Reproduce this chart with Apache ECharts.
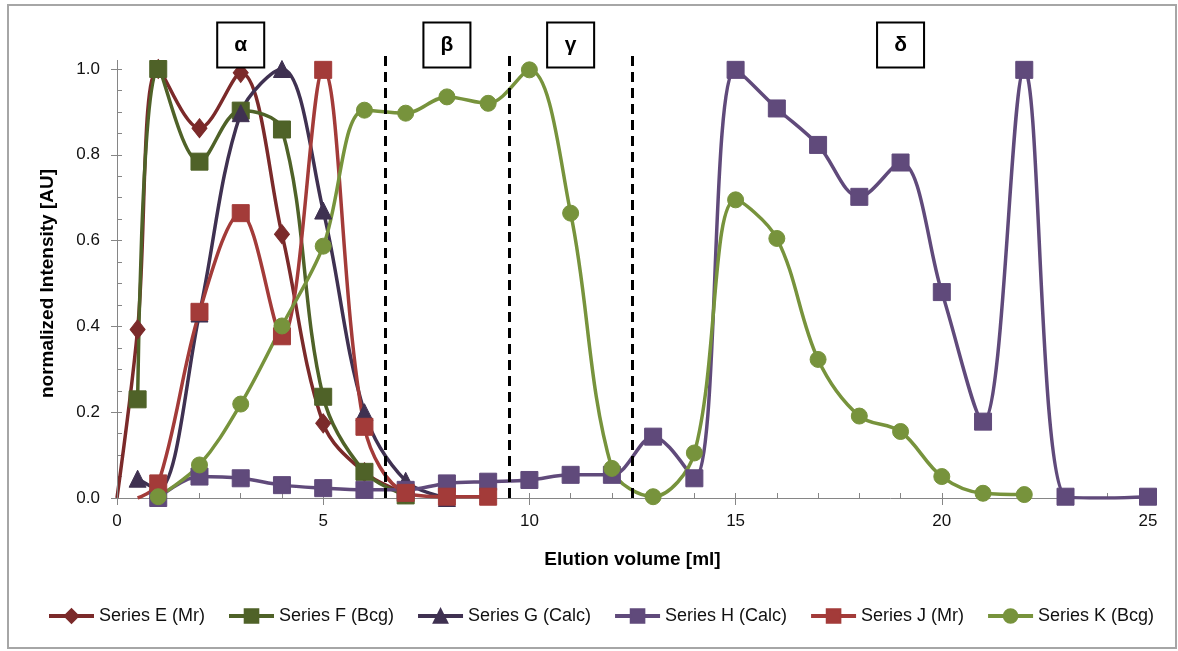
<!DOCTYPE html>
<html><head><meta charset="utf-8">
<script src="https://cdn.jsdelivr.net/npm/echarts@6/dist/echarts.min.js"></script>
<style>html,body{margin:0;padding:0;background:#fff}#c{width:1178px;height:651px}</style>
</head><body><div id="c"></div>
<script>
// ---- data ----
const seriesNames = ['Series E (Mr)', 'Series F (Bcg)', 'Series G (Calc)', 'Series H (Calc)', 'Series J (Mr)', 'Series K (Bcg)'];

const xE = [0, 0.5, 1, 2, 3, 4, 5, 6, 7];
const yE = [0, 0.393, 1.0, 0.862, 0.991, 0.615, 0.174, 0.06, 0.01];

const xF = [0.5, 1, 2, 3, 4, 5, 6, 7];
const yF = [0.23, 1.0, 0.784, 0.903, 0.859, 0.236, 0.061, 0.006];

const xG = [0.5, 1, 2, 3, 4, 5, 6, 7, 8];
const yG = [0.045, 0.02, 0.43, 0.897, 1.0, 0.67, 0.2, 0.04, 0.0];

const xH = [1, 2, 3, 4, 5, 6, 7, 8, 9, 10, 11, 12, 13, 14, 15, 16, 17, 18, 19, 20, 21, 22, 23, 24, 25];
const yH = [0.0, 0.05, 0.046, 0.03, 0.023, 0.019, 0.019, 0.034, 0.038, 0.042, 0.054, 0.054, 0.143, 0.046,
            0.998, 0.908, 0.823, 0.702, 0.782, 0.48, 0.178, 0.998, 0.003, 0.0, 0.003];

const xJ = [0.5, 1, 2, 3, 4, 5, 6, 7, 8, 9];
const yJ = [0.0, 0.034, 0.434, 0.664, 0.377, 0.998, 0.166, 0.012, 0.003, 0.003];

const xK = [1, 2, 3, 4, 5, 6, 7, 8, 9, 10, 11, 12, 13, 14, 15, 16, 17, 18, 19, 20, 21, 22];
const yK = [0.003, 0.077, 0.219, 0.401, 0.587, 0.904, 0.897, 0.935, 0.92, 0.998, 0.664, 0.069, 0.003,
            0.105, 0.695, 0.605, 0.323, 0.191, 0.155, 0.05, 0.011, 0.008];

// x values of points that carry no marker
const noMarkerE = [0];
const noMarkerJ = [0.5];
const noMarkerH = [24];

const dividerX = [6.5, 9.5, 12.5];
const regionLabels = ['α', 'β', 'γ', 'δ'];
const regionX = [3, 8, 11, 19];

// ---- layout / style ----
const FONT = 'Liberation Sans, Arial, sans-serif';
const W = 1178, H = 651;
const GL = 117, GR = 30, GB = 153, PH = 429;
const TOP0 = H - GB - PH;           // plot area for y 0..1
const YMAX1 = 1.1;
const TOP1 = H - GB - PH * YMAX1;    // extended area for annotations
const AX = '#868686';

function mk(name, xs, ys, color, symbol, size, noMarker) {
  return {
    name, type: 'line', xAxisIndex: 2, yAxisIndex: 2,
    smooth: 0.35, symbol, symbolSize: size, showSymbol: true,
    data: xs.map((x, i) => noMarker.includes(x) ? { value: [x, ys[i]], symbol: 'none' } : [x, ys[i]]),
    lineStyle: { color, width: 3.5 },
    itemStyle: { color, borderColor: color, borderWidth: 1 },
    clip: true
  };
}

const annot = {
  type: 'line', xAxisIndex: 2, yAxisIndex: 2, data: [], silent: true,
  markLine: {
    symbol: ['none', 'none'], silent: true, label: { show: false },
    lineStyle: { color: '#000', type: [10, 6], width: 3 },
    data: dividerX.map(x => [{ coord: [x, 0] }, { coord: [x, 1.033] }]).concat([
      [{ coord: [0, 0], lineStyle: { color: AX, type: 'solid', width: 1 } }, { coord: [0, 1.021] }]
    ])
  },
  markPoint: {
    silent: true, symbol: 'rect', symbolSize: [47, 45],
    itemStyle: { color: '#fff', borderColor: '#000', borderWidth: 2 },
    label: { show: true, position: 'inside', formatter: p => p.name, color: '#000', fontSize: 21, fontWeight: 'bold', fontFamily: FONT },
    data: regionLabels.map((l, i) => ({ name: l, coord: [regionX[i], 1.056] }))
  }
};

const chart = echarts.init(document.getElementById('c'), null, { renderer: 'canvas' });
chart.setOption({
  animation: false,
  backgroundColor: '#fff',
  graphic: [{ type: 'rect', silent: true, z: -1, shape: { x: 8, y: 5, width: 1168, height: 643 },
    style: { fill: 'none', stroke: '#A6A6A6', lineWidth: 2 } }],
  grid: [
    { left: GL, right: GR, top: TOP0, bottom: GB },
    { left: GL, right: GR, top: TOP1, bottom: GB }
  ],
  legend: {
    data: seriesNames, left: 42, top: 602, itemWidth: 45, itemHeight: 17, itemGap: 22,
    lineStyle: { width: 4 },
    textStyle: { fontFamily: FONT, fontSize: 18, color: '#111' }
  },
  xAxis: [
    { type: 'value', gridIndex: 0, min: 0, max: 25, interval: 5, position: 'bottom',
      name: 'Elution volume [ml]', nameLocation: 'middle', nameGap: 52,
      nameTextStyle: { fontFamily: FONT, fontSize: 19, fontWeight: 'bold', color: '#000' },
      axisLine: { show: true, lineStyle: { color: AX, width: 1 } },
      axisTick: { show: true, inside: false, length: 7, lineStyle: { color: AX } },
      axisLabel: { fontFamily: FONT, fontSize: 17, color: '#111', margin: 15 },
      splitLine: { show: false } },
    { type: 'value', gridIndex: 0, min: 0, max: 25, interval: 1, position: 'bottom',
      axisLine: { show: false }, axisLabel: { show: false },
      axisTick: { show: true, inside: true, length: 5, lineStyle: { color: AX } },
      splitLine: { show: false } },
    { type: 'value', gridIndex: 1, min: 0, max: 25, show: false, splitLine: { show: false } }
  ],
  yAxis: [
    { type: 'value', gridIndex: 0, min: 0, max: 1, interval: 0.2, position: 'left',
      name: 'normalized Intensity [AU]', nameLocation: 'middle', nameGap: 60, nameRotate: 90,
      nameTextStyle: { fontFamily: FONT, fontSize: 19, fontWeight: 'bold', color: '#000' },
      axisLine: { show: false },
      axisTick: { show: true, inside: false, length: 6, lineStyle: { color: AX } },
      axisLabel: { fontFamily: FONT, fontSize: 17, color: '#111', margin: 17, formatter: v => v.toFixed(1) },
      splitLine: { show: false } },
    { type: 'value', gridIndex: 0, min: 0, max: 1, interval: 0.05, position: 'left',
      axisLine: { show: false }, axisLabel: { show: false },
      axisTick: { show: true, inside: true, length: 5, lineStyle: { color: AX } },
      splitLine: { show: false } },
    { type: 'value', gridIndex: 1, min: 0, max: YMAX1, show: false, splitLine: { show: false } }
  ],
  series: [
    annot,
    mk(seriesNames[0], xE, yE, '#7B2A2A', 'diamond', [15, 19], noMarkerE),
    mk(seriesNames[1], xF, yF, '#4F6228', 'rect', 17, []),
    mk(seriesNames[2], xG, yG, '#3F3151', 'triangle', 17, []),
    mk(seriesNames[3], xH, yH, '#604A7B', 'rect', 17, noMarkerH),
    mk(seriesNames[4], xJ, yJ, '#A33B39', 'rect', 17, noMarkerJ),
    mk(seriesNames[5], xK, yK, '#77933C', 'circle', 16, [])
  ]
});
</script>
</body></html>
